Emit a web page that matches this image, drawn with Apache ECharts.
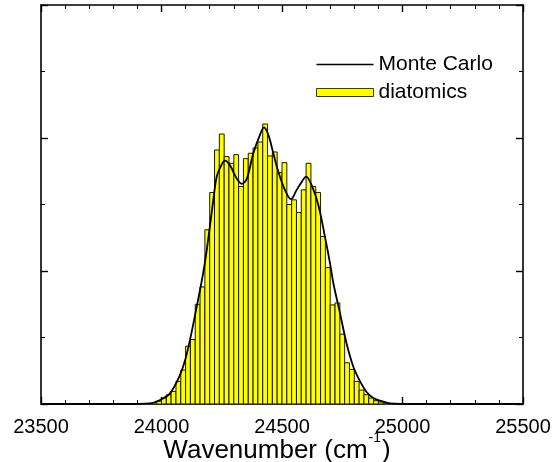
<!DOCTYPE html>
<html>
<head>
<meta charset="utf-8">
<script src="https://cdn.jsdelivr.net/npm/echarts@6/dist/echarts.min.js"></script>
<style>
  html, body { margin: 0; padding: 0; background: #fff; }
  #chart { width: 557px; height: 462px; }
</style>
</head>
<body>
<div id="chart"></div>
<script>
// Histogram of diatomic transition wavenumbers (bin centres, cm^-1) and heights
const binWidth = 20;
const binCenters = [
  23970, 23990, 24010, 24030, 24050, 24070, 24090, 24110, 24130, 24150,
  24170, 24190, 24210, 24230, 24250, 24270, 24290, 24310, 24330, 24350,
  24370, 24390, 24410, 24430, 24450, 24470, 24490, 24510, 24530, 24550,
  24570, 24590, 24610, 24630, 24650, 24670, 24690, 24710, 24730, 24750,
  24770, 24790, 24810, 24830, 24850, 24870, 24890, 24910
];
const binHeights = [
  0.02, 0.04, 0.09, 0.14, 0.19, 0.34, 0.51, 0.87, 0.97, 1.50,
  1.76, 2.62, 3.18, 3.82, 4.06, 3.72, 3.62, 3.75, 3.27, 3.69,
  3.77, 3.85, 3.94, 4.21, 3.73, 3.79, 3.48, 3.63, 3.00, 3.07,
  2.88, 3.22, 3.62, 3.27, 3.18, 2.52, 2.05, 1.49, 1.52, 1.05,
  0.62, 0.52, 0.34, 0.21, 0.14, 0.09, 0.05, 0.03
];

// Monte Carlo simulated profile
const mcWavenumber = [
  23500, 23850, 23952, 23994, 24035, 24077, 24098, 24118, 24146, 24173,
  24188, 24215, 24229, 24243, 24263, 24284, 24312, 24333, 24354, 24381,
  24409, 24425, 24443, 24464, 24485, 24512, 24537, 24561, 24582, 24600,
  24623, 24651, 24678, 24699, 24713, 24741, 24768, 24796, 24824, 24851,
  24879, 24907, 24948, 25050, 25500
];
const mcIntensity = [
  0.00, 0.00, 0.01, 0.06, 0.16, 0.44, 0.66, 0.96, 1.46, 1.97,
  2.32, 3.07, 3.42, 3.55, 3.66, 3.59, 3.39, 3.31, 3.39, 3.77,
  4.05, 4.16, 4.05, 3.77, 3.49, 3.22, 3.08, 3.22, 3.34, 3.42,
  3.29, 2.99, 2.52, 2.12, 1.82, 1.36, 0.91, 0.56, 0.34, 0.18,
  0.09, 0.05, 0.01, 0.00, 0.00
];

const xTickMin = 23500, xTickMax = 25500, xTickStep = 500;
const yMin = 0, yMax = 6, yStep = 2;

const font = "'Liberation Sans', Arial, sans-serif";

const histData = binCenters.map((c, i) => [c, binHeights[i]]);
const mcData = mcWavenumber.map((w, i) => [w, mcIntensity[i]]);

function frameAxisLine() {
  return { show: true, onZero: false, lineStyle: { color: '#000', width: 1.6 } };
}
function majorTick() {
  return { show: true, inside: true, length: 7, lineStyle: { color: '#000', width: 1.4 } };
}
function minorTick(n) {
  return { show: true, splitNumber: n, length: 4, lineStyle: { color: '#000', width: 1 } };
}

const chart = echarts.init(document.getElementById('chart'), null, { renderer: 'canvas' });
chart.setOption({
  animation: false,
  backgroundColor: '#fff',
  grid: { left: 41, right: 34, top: 5, bottom: 58, containLabel: false, outerBoundsMode: 'none' },
  legend: {
    orient: 'vertical',
    left: 311,
    top: 49,
    padding: 5,
    itemWidth: 57,
    itemHeight: 8,
    itemGap: 7,
    symbolKeepAspect: true,
    textStyle: { fontFamily: font, fontSize: 21, color: '#000', lineHeight: 20 },
    data: [
      { name: 'Monte Carlo', icon: 'path://M0,0 L57,0 L57,1.6 L0,1.6 Z', itemStyle: { color: '#000' } },
      { name: 'diatomics', icon: 'rect', itemStyle: { color: '#ffff00', borderColor: '#3a3a00', borderWidth: 1 } }
    ]
  },
  // x-axis title with superscript exponent
  graphic: [
    {
      type: 'text',
      x: 277,
      y: 450,
      style: {
        text: '{a|Wavenumber (cm}{s|-1}{a|)}',
        align: 'center',
        verticalAlign: 'middle',
        fill: '#000',
        rich: {
          a: { fontFamily: font, fontSize: 26, fill: '#000', lineHeight: 28, verticalAlign: 'bottom' },
          s: { fontFamily: font, fontSize: 14, fill: '#000', lineHeight: 14, verticalAlign: 'bottom', padding: [0, 1, 19, 1] }
        }
      }
    }
  ],
  xAxis: [
    {
      type: 'value', position: 'bottom',
      min: xTickMin, max: xTickMax, interval: xTickStep,
      axisLine: frameAxisLine(),
      axisTick: majorTick(),
      minorTick: minorTick(5),
      splitLine: { show: false },
      axisLabel: { fontFamily: font, fontSize: 20, color: '#000', margin: 13, formatter: v => String(v) }
    },
    {
      type: 'value', position: 'top',
      min: xTickMin, max: xTickMax, interval: xTickStep,
      axisLine: frameAxisLine(),
      axisTick: majorTick(),
      minorTick: minorTick(5),
      splitLine: { show: false },
      axisLabel: { show: false }
    }
  ],
  yAxis: [
    {
      type: 'value', position: 'left',
      min: yMin, max: yMax, interval: yStep,
      axisLine: frameAxisLine(),
      axisTick: majorTick(),
      minorTick: minorTick(2),
      splitLine: { show: false },
      axisLabel: { show: false }
    },
    {
      type: 'value', position: 'right',
      min: yMin, max: yMax, interval: yStep,
      axisLine: frameAxisLine(),
      axisTick: majorTick(),
      minorTick: minorTick(2),
      splitLine: { show: false },
      axisLabel: { show: false }
    }
  ],
  series: [
    {
      name: 'diatomics',
      type: 'custom',
      xAxisIndex: 0,
      yAxisIndex: 0,
      data: histData,
      encode: { x: 0, y: 1 },
      itemStyle: { color: '#ffff00', borderColor: '#3a3a00', borderWidth: 1 },
      renderItem: function (params, api) {
        const c = api.value(0), h = api.value(1);
        const topLeft = api.coord([c - binWidth / 2, h]);
        const bottomRight = api.coord([c + binWidth / 2, 0]);
        return {
          type: 'rect',
          shape: {
            x: topLeft[0], y: topLeft[1],
            width: bottomRight[0] - topLeft[0],
            height: bottomRight[1] - topLeft[1]
          },
          style: { fill: '#ffff00', stroke: '#1a1a00', lineWidth: 1 }
        };
      },
      z: 2
    },
    {
      name: 'Monte Carlo',
      type: 'line',
      xAxisIndex: 0,
      yAxisIndex: 0,
      data: mcData,
      symbol: 'none',
      smooth: 0.35,
      lineStyle: { color: '#000', width: 1.8 },
      itemStyle: { color: '#000' },
      z: 3
    }
  ]
});
</script>
</body>
</html>
